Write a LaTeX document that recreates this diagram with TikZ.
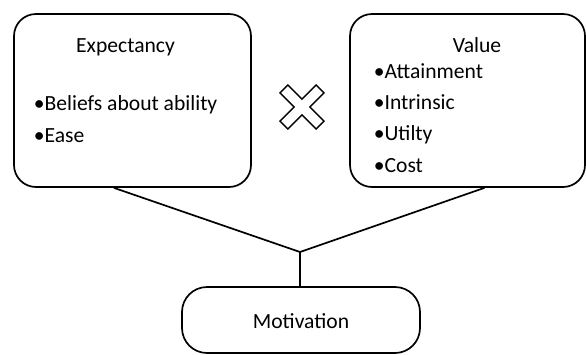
\documentclass[tikz,border=0pt]{standalone}
\usepackage{fontspec}
\setmainfont{Carlito}
\begin{document}
\begin{tikzpicture}[x=1pt,y=-1pt,line width=1.7pt,
        box/.style={draw,rounded corners=22pt,inner sep=0pt},
        label/.style={inner sep=0pt,font=\fontsize{21.6}{26}\selectfont},
        item/.style={label,anchor=base west}]
    \useasboundingbox (0,0) rectangle (586,354);

    \node[box,minimum width=237pt,minimum height=173pt] (expbox) at (132.5,100.5) {};
    \node[box,minimum width=235pt,minimum height=173pt] (valbox) at (467.5,100.5) {};
    \node[box,rounded corners=25pt,minimum width=238pt,minimum height=66pt] (motbox) at (301,320) {};

    \coordinate (join) at (300,252);
    \draw (expbox.258) -- (join);
    \draw (valbox.281) -- (join);
    \draw (join) -- (join |- motbox.north);

    % expectancy side
    \node[label,anchor=base] (exptitle) at (125.5,52) {Expectancy};
    \node[item] (belief) at (33,110) {•Beliefs about ability};
    \node[item] (ease) at (33,142) {•Ease};

    % value side
    \node[label,anchor=base] (valtitle) at (477,52) {Value};
    \node[item] (attain) at (373,78) {•Attainment};
    \node[item] (intrin) at (373,109) {•Intrinsic};
    \node[item] (util) at (373,140) {•Utilty};
    \node[item] (cost) at (373,172) {•Cost};

    \node[label,anchor=base] (mottext) at (301,328) {Motivation};

    % times sign
    \draw[line width=1.4pt,shift={(302,107)},rotate=45]
        (-5.5,-25.5) -- (5.5,-25.5) -- (5.5,-5.5) -- (25.5,-5.5) -- (25.5,5.5)
        -- (5.5,5.5) -- (5.5,25.5) -- (-5.5,25.5) -- (-5.5,5.5) -- (-25.5,5.5)
        -- (-25.5,-5.5) -- (-5.5,-5.5) -- cycle;
\end{tikzpicture}
\end{document}
